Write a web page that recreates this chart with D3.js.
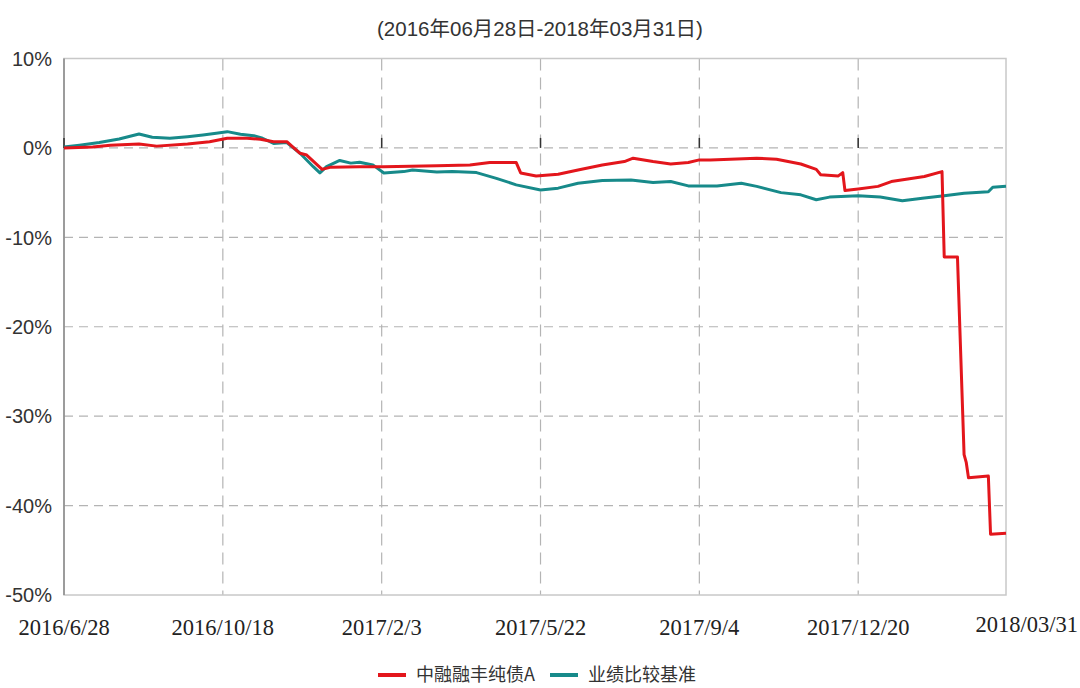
<!DOCTYPE html>
<html>
<head>
<meta charset="utf-8">
<script src="https://cdn.jsdelivr.net/npm/d3@7"></script>
<style>
  html, body { margin: 0; padding: 0; background: #fff; }
  svg { display: block; }
  .num { font-family: "Liberation Sans", "Noto Sans CJK SC", sans-serif; fill: #333; }
  .date { font-family: "Liberation Serif", serif; fill: #222; }
  .cjk { font-family: "Noto Sans CJK SC", sans-serif; fill: #333; }
</style>
</head>
<body>
<script>
"use strict"

// title and legend text
const title = "(2016年06月28日-2018年03月31日)"
const seriesNames = ["中融融丰纯债A", "业绩比较基准"]
const seriesColors = ["#e3161c", "#178a8a"]

// x is a trading-day index; tick labels sit every 72 days
const tickDays = [0, 72, 144, 216, 288, 360]
const tickLabels = ["2016/6/28", "2016/10/18", "2017/2/3", "2017/5/22", "2017/9/4", "2017/12/20"]
const endDay = 427
const endLabel = "2018/03/31"

// y ticks, in percent
const yTicks = [10, 0, -10, -20, -30, -40, -50]

// cumulative return, [day, percent]
const fund = [
  [0, 0], [13, 0.1], [21, 0.3], [34, 0.45], [42, 0.2], [56, 0.45], [66, 0.7], [74, 1.08],
  [83, 1.08], [89, 0.97], [95, 0.7], [101, 0.7], [107, -0.6], [110, -0.8], [117, -2.4],
  [121, -2.15], [134, -2.1], [145, -2.1], [169, -2.0], [184, -1.9], [193, -1.64], [205, -1.64],
  [207, -2.8], [214, -3.13], [224, -2.94], [233, -2.46], [244, -1.9], [254, -1.53], [258, -1.15],
  [267, -1.53], [275, -1.8], [283, -1.64], [288, -1.34], [293, -1.34], [314, -1.15], [323, -1.27],
  [334, -1.8], [341, -2.4], [343, -3.0], [351, -3.13], [353, -2.76], [354, -4.77], [360, -4.6],
  [369, -4.3], [375, -3.76], [390, -3.2], [398, -2.65], [399, -12.2], [405, -12.2], [408, -34.3],
  [409, -35.2], [410, -36.9], [419, -36.7], [420, -43.2], [427, -43.1],
]

const bench = [
  [0, 0.1], [7, 0.3], [16, 0.6], [25, 1.0], [34, 1.56], [40, 1.2], [48, 1.08], [56, 1.26],
  [63, 1.45], [69, 1.64], [74, 1.82], [80, 1.53], [86, 1.37], [90, 1.08], [95, 0.5], [101, 0.6],
  [107, -0.6], [113, -2.1], [116, -2.8], [119, -2.1], [125, -1.4], [130, -1.7], [134, -1.6],
  [140, -1.9], [145, -2.8], [154, -2.65], [158, -2.46], [169, -2.7], [176, -2.65], [187, -2.76],
  [196, -3.4], [205, -4.13], [216, -4.7], [224, -4.5], [233, -3.95], [244, -3.65], [257, -3.58],
  [267, -3.87], [275, -3.76], [283, -4.25], [296, -4.25], [307, -3.95], [314, -4.3], [325, -5.0],
  [334, -5.25], [341, -5.8], [347, -5.5], [360, -5.36], [370, -5.5], [380, -5.9], [390, -5.6],
  [399, -5.36], [408, -5.06], [419, -4.9], [421, -4.4], [427, -4.3],
]

// SVG area
const area   = [1080, 688]
const margin = { top : 58.5, right : 74, bottom : 93, left : 64 }
const width  = area[0] - margin.left - margin.right
const height = area[1] - margin.top - margin.bottom

const x = d3.scaleLinear().domain([0, endDay]).range([0, width])
const y = d3.scaleLinear().domain([-50, 10]).range([height, 0])

const translate = (x, y) => `translate(${x} ${y})`

const svg = d3.select("body").append("svg")
  .attr("width", area[0])
  .attr("height", area[1])

svg.append("text")
  .attr("class", "num")
  .attr("x", area[0] / 2)
  .attr("y", 36)
  .attr("text-anchor", "middle")
  .style("font-size", "20.5px")
  .text(title)

const g = svg.append("g").attr("transform", translate(margin.left, margin.top))

// dashed grid
g.append("g").selectAll("line")
  .data(yTicks.filter(d => d > -50 && d < 10))
  .join("line")
  .attr("x1", 0).attr("x2", width)
  .attr("y1", d => y(d)).attr("y2", d => y(d))
  .attr("stroke", "#b4b4b4").attr("stroke-width", 1.2).attr("stroke-dasharray", "9,6")

g.append("g").selectAll("line")
  .data(tickDays.slice(1))
  .join("line")
  .attr("x1", d => x(d)).attr("x2", d => x(d))
  .attr("y1", 0).attr("y2", height)
  .attr("stroke", "#b4b4b4").attr("stroke-width", 1.2).attr("stroke-dasharray", "12,7")

// frame
g.append("rect")
  .attr("width", width).attr("height", height)
  .attr("fill", "none").attr("stroke", "#c8c8c8").attr("stroke-width", 1.5)
g.append("line")
  .attr("x1", 0).attr("x2", 0).attr("y1", 0).attr("y2", height)
  .attr("stroke", "#888").attr("stroke-width", 1.5)

// short ticks on the zero line
g.append("g").selectAll("line")
  .data(tickDays)
  .join("line")
  .attr("x1", d => x(d)).attr("x2", d => x(d))
  .attr("y1", y(0)).attr("y2", y(0) - 10)
  .attr("stroke", "#333").attr("stroke-width", 1.5)

// y labels
g.append("g").selectAll("text")
  .data(yTicks)
  .join("text")
  .attr("class", "num")
  .attr("x", -12)
  .attr("y", d => y(d))
  .attr("dy", "0.36em")
  .attr("text-anchor", "end")
  .style("font-size", "20px")
  .text(d => d + "%")

// x labels
g.append("g").selectAll("text")
  .data(tickDays)
  .join("text")
  .attr("class", "date")
  .attr("x", d => x(d))
  .attr("y", height + 40)
  .attr("text-anchor", "middle")
  .style("font-size", "22.5px")
  .text((d, i) => tickLabels[i])

svg.append("text")
  .attr("class", "date")
  .attr("x", area[0] - 2)
  .attr("y", margin.top + height + 37)
  .attr("text-anchor", "end")
  .style("font-size", "22.5px")
  .text(endLabel)

// lines
const line = d3.line().x(d => x(d[0])).y(d => y(d[1]))

g.append("path")
  .datum(bench)
  .attr("d", line)
  .attr("fill", "none").attr("stroke", seriesColors[1]).attr("stroke-width", 3)
  .attr("stroke-linejoin", "round")

g.append("path")
  .datum(fund)
  .attr("d", line)
  .attr("fill", "none").attr("stroke", seriesColors[0]).attr("stroke-width", 3)
  .attr("stroke-linejoin", "round")

// legend
const legendX = [378, 550]
const legend = svg.append("g").selectAll("g")
  .data(seriesNames)
  .join("g")
  .attr("transform", (d, i) => translate(legendX[i], 675))

legend.append("line")
  .attr("x1", 0).attr("x2", 28)
  .attr("stroke", (d, i) => seriesColors[i]).attr("stroke-width", 4)

legend.append("text")
  .attr("class", "cjk")
  .attr("x", 38)
  .attr("dy", "0.36em")
  .style("font-size", "18px")
  .text(d => d)
</script>
</body>
</html>
